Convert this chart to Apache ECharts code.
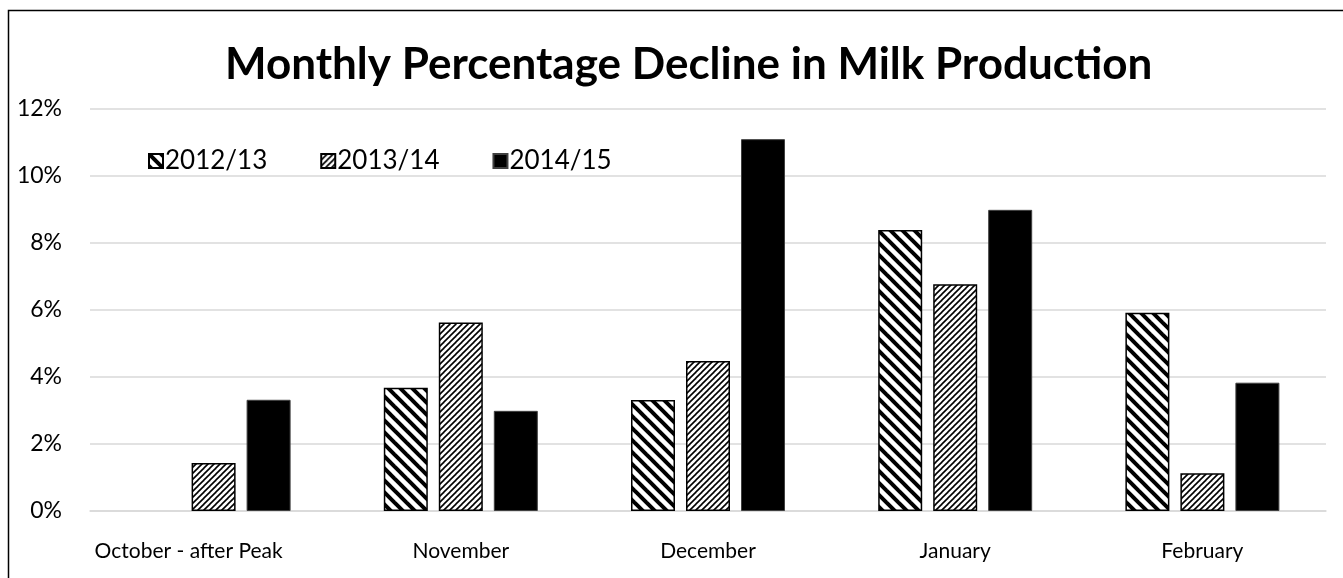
<!DOCTYPE html>
<html>
<head>
<meta charset="utf-8">
<style>
  html, body { margin: 0; padding: 0; background: #fff; }
  #chart { width: 1343px; height: 578px; }
</style>
<script src="https://cdn.jsdelivr.net/npm/echarts@6/dist/echarts.min.js"></script>
</head>
<body>
<div id="chart"></div>
<script>
const categories = ['October - after Peak', 'November', 'December', 'January', 'February'];
const seriesNames = ['2012/13', '2013/14', '2014/15'];
const values2012 = [null, 3.68, 3.31, 8.39, 5.92];
const values2013 = [1.43, 5.63, 4.48, 6.77, 1.13];
const values2014 = [3.32, 2.99, 11.1, 8.99, 3.83];
const yTicks = { min: 0, max: 12, interval: 2 };

const FONT = 'Lato';

// Hatch tile: diagonal stripes repeated every `period` px.
function hatch(period, lineWidth, downward) {
  const c = document.createElement('canvas');
  c.width = period; c.height = period;
  const ctx = c.getContext('2d');
  ctx.fillStyle = '#fff';
  ctx.fillRect(0, 0, period, period);
  ctx.strokeStyle = '#000';
  ctx.lineWidth = lineWidth;
  for (let k = -1; k <= 1; k++) {
    ctx.beginPath();
    if (downward) {
      ctx.moveTo(-period + k * period, -period);
      ctx.lineTo(2 * period + k * period, 2 * period);
    } else {
      ctx.moveTo(-period + k * period, 2 * period);
      ctx.lineTo(2 * period + k * period, -period);
    }
    ctx.stroke();
  }
  return { image: c, repeat: 'repeat' };
}

const wideDown = hatch(12, 4, true);
const darkUp = hatch(6, 1.6, false);

const chart = echarts.init(document.getElementById('chart'), null, { renderer: 'canvas' });

chart.setOption({
  animation: false,
  backgroundColor: '#fff',
  title: {
    text: 'Monthly Percentage Decline in Milk Production',
    left: 220,
    top: 38,
    textStyle: { fontFamily: FONT, fontWeight: 'bold', fontSize: 44, color: '#000' }
  },
  graphic: [{
    type: 'polyline',
    shape: { points: [[8.5, 600], [8.5, 10.5], [1400, 10.5]] },
    style: { stroke: '#000', lineWidth: 1.5, fill: null },
    silent: true
  }],
  legend: {
    left: 143,
    top: 143,
    icon: 'rect',
    itemWidth: 14,
    itemHeight: 14,
    itemGap: 53,
    textStyle: { fontFamily: FONT, fontSize: 26, color: '#000', padding: [0, 0, 0, -3] },
    data: seriesNames
  },
  grid: { left: 90, right: 17, top: 109, bottom: 67 },
  xAxis: {
    type: 'category',
    data: categories,
    axisTick: { show: false },
    axisLine: { lineStyle: { color: '#d9d9d9', width: 1.5 } },
    axisLabel: {
      interval: 0,
      hideOverlap: false,
      fontFamily: FONT, fontSize: 21, color: '#000', margin: 30,
      // the first, longer label sits a little left of its bar group
      formatter: (v, i) => (i === 0 ? '{lead|' + v + '}' : v),
      rich: { lead: { fontFamily: FONT, fontSize: 21, color: '#000', padding: [0, 50, 0, 0] } }
    }
  },
  yAxis: {
    type: 'value',
    min: yTicks.min,
    max: yTicks.max,
    interval: yTicks.interval,
    axisLine: { show: false },
    axisTick: { show: false },
    splitLine: { lineStyle: { color: '#d9d9d9', width: 1.5 } },
    axisLabel: { fontFamily: FONT, fontSize: 23, color: '#000', margin: 28, formatter: v => v + '%' }
  },
  series: [
    {
      name: seriesNames[0], type: 'bar', data: values2012,
      barWidth: 44, barGap: '25%',
      itemStyle: { color: wideDown, borderColor: '#000', borderWidth: 1.5 }
    },
    {
      name: seriesNames[1], type: 'bar', data: values2013,
      barWidth: 44, barGap: '25%',
      itemStyle: { color: darkUp, borderColor: '#000', borderWidth: 1.5 }
    },
    {
      name: seriesNames[2], type: 'bar', data: values2014,
      barWidth: 44, barGap: '25%',
      itemStyle: { color: '#000', borderColor: '#404040', borderWidth: 1 }
    }
  ]
});
</script>
</body>
</html>
